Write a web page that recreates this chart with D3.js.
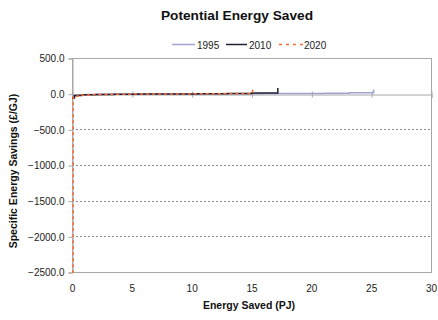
<!DOCTYPE html>
<html>
<head>
<meta charset="utf-8">
<script src="https://cdn.jsdelivr.net/npm/d3@7"></script>
<style>
  body { margin: 0; background: #fff; }
  text { font-family: "Liberation Sans", Arial, sans-serif; }
</style>
</head>
<body>
<svg id="chart" width="438" height="320"></svg>
<script>
// Cumulative energy saved (PJ) and specific savings (£/GJ), one step curve per year
const energy1995 = [0, 0.3, 1.2, 2.5, 4, 6, 8.5, 11, 13.5, 16, 18.5, 21, 23.2, 25.2];
const savings1995 = [-40, -20, -12, -9, -7, -5, -3, -2, -1, 1, 3, 6, 14, 60];
const energy2010 = [0, 0.2, 0.8, 2, 3.5, 5.5, 8, 10.5, 13, 15, 17.2];
const savings2010 = [-60, -25, -15, -10, -7, -5, -3, -1, 2, 8, 80];
const energy2020 = [0, 0.1, 0.5, 1.5, 3, 5, 7.5, 10, 12.5, 15.1];
const savings2020 = [-2500, -35, -18, -12, -8, -5, -3, -1, 4, 60];

const xTicks = [0, 5, 10, 15, 20, 25, 30];
const yTicks = [500, 0, -500, -1000, -1500, -2000, -2500];
const years = ["1995", "2010", "2020"];

const colors = { "1995": "#a3a3d1", "2010": "#1c2233", "2020": "#ff6a33" };

const svg = d3.select("#chart");
const m = { left: 72, right: 431, top: 58, bottom: 272 };

const x = d3.scaleLinear().domain([0, 30]).range([m.left, m.right]);
const y = d3.scaleLinear().domain([-2500, 500]).range([m.bottom, m.top]);

// Title
svg.append("text").attr("x", 237).attr("y", 20).attr("text-anchor", "middle")
  .attr("font-size", 13.7).attr("font-weight", "bold").attr("fill", "#111")
  .text("Potential Energy Saved");

// Dashed gridlines
svg.append("g").selectAll("line").data(yTicks.filter(v => v < 0 && v > -2500)).join("line")
  .attr("x1", m.left).attr("x2", m.right)
  .attr("y1", d => Math.round(y(d)) + 0.5).attr("y2", d => Math.round(y(d)) + 0.5)
  .attr("stroke", "#8a8a8a").attr("stroke-width", 1).attr("stroke-dasharray", "2,2");

// Plot frame
svg.append("rect").attr("x", m.left + 0.5).attr("y", m.top + 0.5)
  .attr("width", m.right - m.left).attr("height", m.bottom - m.top)
  .attr("fill", "none").attr("stroke", "#a8a8a8").attr("stroke-width", 1);

// Y axis
const yAxis = d3.axisLeft(y).tickValues(yTicks).tickSize(4).tickFormat(d3.format(".1f"));
const gy = svg.append("g").attr("transform", `translate(${m.left + 0.5},0.5)`).call(yAxis);
gy.select(".domain").attr("stroke", "#a8a8a8");
gy.selectAll(".tick line").attr("stroke", "#a8a8a8");
gy.selectAll(".tick text").attr("font-size", 10).attr("fill", "#222")
  .attr("font-family", "Liberation Sans, Arial, sans-serif").attr("dx", -1);

// X axis line at zero, with crossing ticks
const xAxis = d3.axisBottom(x).tickValues(xTicks).tickSize(3).tickFormat("");
const gx = svg.append("g").attr("transform", `translate(0.5,${Math.round(y(0)) + 0.5})`).call(xAxis);
gx.select(".domain").attr("stroke", "#a8a8a8");
gx.selectAll(".tick line").attr("stroke", "#a8a8a8").attr("y1", -3);

// X tick labels below the plot
svg.append("g").selectAll("text").data(xTicks).join("text")
  .attr("x", d => x(d) + 0.5).attr("y", 292).attr("text-anchor", "middle")
  .attr("font-size", 10).attr("fill", "#222").text(d => d);

// Axis titles
svg.append("text").attr("x", 249).attr("y", 309).attr("text-anchor", "middle")
  .attr("font-size", 10.5).attr("font-weight", "bold").attr("fill", "#111")
  .text("Energy Saved (PJ)");
svg.append("text").attr("transform", `translate(17,${(m.top + m.bottom) / 2 + 6}) rotate(-90)`)
  .attr("text-anchor", "middle").attr("font-size", 10.5).attr("font-weight", "bold").attr("fill", "#111")
  .text("Specific Energy Savings (£/GJ)");

// Series
const series = [
  { year: "1995", xs: energy1995, ys: savings1995, dash: null, w: 1.5 },
  { year: "2010", xs: energy2010, ys: savings2010, dash: null, w: 1.5 },
  { year: "2020", xs: energy2020, ys: savings2020, dash: "3,3", w: 1.5 }
];
const line = d3.line().x(d => x(d[0])).y(d => y(d[1])).curve(d3.curveStepAfter);
series.forEach(s => {
  svg.append("path").datum(s.xs.map((v, i) => [v, s.ys[i]]))
    .attr("d", line).attr("fill", "none").attr("stroke", colors[s.year])
    .attr("stroke-width", s.w).attr("stroke-dasharray", s.dash);
});

// Legend
const legendItems = [
  { year: "1995", x1: 172, x2: 195, tx: 197, dash: null },
  { year: "2010", x1: 226, x2: 247, tx: 249, dash: null },
  { year: "2020", x1: 279, x2: 303, tx: 304, dash: "3,4" }
];
const lg = svg.append("g");
legendItems.forEach(it => {
  lg.append("line").attr("x1", it.x1).attr("x2", it.x2).attr("y1", 44.5).attr("y2", 44.5)
    .attr("stroke", colors[it.year]).attr("stroke-width", 1.5).attr("stroke-dasharray", it.dash);
  lg.append("text").attr("x", it.tx).attr("y", 48.5).attr("font-size", 10).attr("fill", "#222")
    .text(it.year);
});
</script>
</body>
</html>
